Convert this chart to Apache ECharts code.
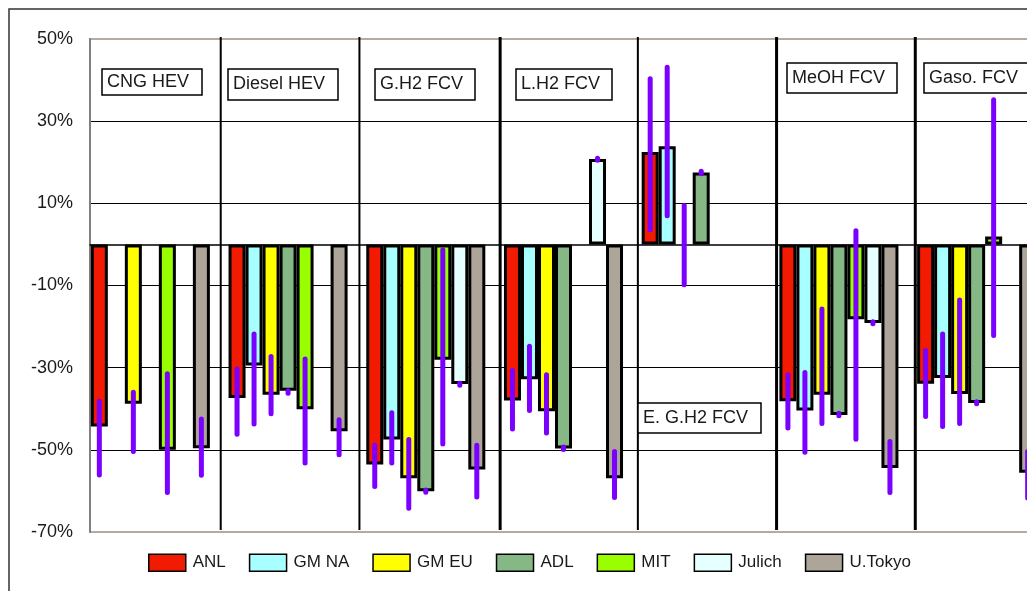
<!DOCTYPE html>
<html><head><meta charset="utf-8">
<script src="https://cdn.jsdelivr.net/npm/echarts@6/dist/echarts.min.js"></script>
<style>html,body{margin:0;padding:0;background:#fff;overflow:hidden;width:1027px;height:591px}#c{width:1060px;height:591px}</style>
</head><body><div id="c"></div>
<script>
// ---------------- data ----------------
const categories = ['CNG HEV', 'Diesel HEV', 'G.H2 FCV', 'L.H2 FCV', 'E. G.H2 FCV', 'MeOH FCV', 'Gaso. FCV'];
const seriesNames = ['ANL', 'GM NA', 'GM EU', 'ADL', 'MIT', 'Julich', 'U.Tokyo'];
const yTicks = [-70, -50, -30, -10, 10, 30, 50];

const anl    = [-44.3, -37.4, -53.6, -38.0, 22.5, -38.2, -33.9];
const gmNa   = [null, -29.5, -47.5, -32.8, 23.9, -40.4, -32.5];
const gmEu   = [-38.8, -36.6, -56.9, -40.6, null, -36.6, -36.4];
const adl    = [null, -35.6, -60.1, -49.7, 17.5, -41.5, -38.6];
const mit    = [-50.0, -40.1, -28.1, null, null, -18.2, 1.9];
const julich = [null, null, -34.0, 20.8, null, -19.1, null];
const uTokyo = [-49.6, -45.5, -54.8, -56.9, null, -54.4, -55.6];

const anlRange    = [[-56.1, -38.2], [-46.2, -30.3], [-58.9, -48.9], [-44.9, -30.7], [3.6, 40.3], [-44.7, -31.7], [-41.9, -25.8]];
const gmNaRange   = [null, [-43.7, -21.8], [-53.2, -41.0], [-40.4, -24.8], [7.0, 43.1], [-50.6, -31.2], [-44.3, -21.8]];
const gmEuRange   = [[-50.4, -36.0], [-41.2, -27.3], [-64.2, -47.5], [-45.9, -31.7], [-9.8, 9.5], [-43.6, -15.7], [-43.6, -13.5]];
const adlRange    = [null, [-36.2, -35.6], [-60.3, -59.8], [-49.9, -49.3], [17.2, 17.8], [-41.7, -41.1], [-38.8, -38.3]];
const mitRange    = [[-60.4, -31.5], [-53.2, -27.9], [-48.6, -1.3], null, null, [-47.4, 3.3], [-22.2, 35.2]];
const julichRange = [null, null, [-34.3, -33.8], [20.5, 21.0], null, [-19.3, -18.8], null];
const uTokyoRange = [[-56.2, -42.5], [-51.2, -42.7], [-61.5, -48.9], [-61.6, -50.4], null, [-60.4, -48.0], [-61.7, -50.4]];

// ---------------- styling ----------------
const values = [anl, gmNa, gmEu, adl, mit, julich, uTokyo];
const ranges = [anlRange, gmNaRange, gmEuRange, adlRange, mitRange, julichRange, uTokyoRange];
const colors = ['#F21A00', '#A8FFFF', '#FFFF00', '#86B886', '#99FF00', '#E6FFFF', '#AEA59A'];
const FONT = '"Liberation Sans", Arial, sans-serif';
const CAT_GAP = 0.012;      // fraction of band used as category gap
const SLOTS = 8;            // 7 series + one empty spacer slot (as in original layout)

const chart = echarts.init(document.getElementById('c'), null, {renderer: 'canvas'});

const barSeries = seriesNames.map((n, i) => ({
  name: n, type: 'bar', data: values[i].map(v => v == null ? '-' : v),
  barGap: '0%', barCategoryGap: (CAT_GAP * 100) + '%',
  itemStyle: {color: colors[i], borderColor: '#000', borderWidth: 3},
  emphasis: {disabled: true}, z: 3
}));
barSeries.push({
  name: 'spacer', type: 'bar', data: [], barGap: '0%', barCategoryGap: (CAT_GAP * 100) + '%',
  silent: true, z: 3
});

const errSeries = seriesNames.map((n, i) => ({
  name: n + ' range', type: 'custom', silent: true, z: 6,
  data: ranges[i].map((r, j) => r ? [j, r[0], r[1]] : null).filter(Boolean),
  encode: {x: 0, y: [1, 2]},
  renderItem: (params, api) => {
    const j = api.value(0), lo = api.value(1), hi = api.value(2);
    const band = api.size([1, 0])[0];
    const bw = band * (1 - CAT_GAP) / SLOTS;
    const p1 = api.coord([j, lo]);
    const p2 = api.coord([j, hi]);
    const x = p1[0] - band / 2 + band * CAT_GAP / 2 + bw * (i + 0.5);
    return {type: 'line', shape: {x1: x, y1: p1[1], x2: x, y2: p2[1]},
      style: {stroke: '#7A00FF', lineWidth: 5, lineCap: 'round'}};
  }
}));

chart.setOption({
  animation: false,
  backgroundColor: '#fff',
  grid: {left: 90, top: 39, right: 6, bottom: 59, show: true, borderColor: '#B4ACA4', borderWidth: 2, backgroundColor: 'transparent'},
  xAxis: {
    type: 'category', data: categories,
    axisLine: {show: true, onZero: true, lineStyle: {color: '#000', width: 1.5}},
    axisTick: {show: false}, axisLabel: {show: false}, splitLine: {show: false}
  },
  yAxis: {
    type: 'value', min: yTicks[0], max: yTicks[yTicks.length - 1], interval: yTicks[1] - yTicks[0],
    axisLine: {show: true, lineStyle: {color: '#808080', width: 2}},
    axisTick: {show: false},
    axisLabel: {formatter: '{value}%', fontFamily: FONT, fontSize: 18, color: '#1a1a1a', margin: 17},
    splitLine: {show: true, showMinLine: false, showMaxLine: false, lineStyle: {color: '#000', width: 1}}
  },
  legend: {
    data: seriesNames, left: 148, bottom: 19, padding: 0, icon: 'rect', itemWidth: 37, itemHeight: 17, itemGap: 23,
    textStyle: {fontFamily: FONT, fontSize: 17, color: '#1a1a1a', padding: [0, 0, 0, 2]},
    itemStyle: {borderColor: '#000', borderWidth: 1.5}, selectedMode: false
  },
  series: barSeries.concat(errSeries)
});

// ---------------- decorations: group separators, label boxes, outer frame ----------------
const c0 = chart.convertToPixel({xAxisIndex: 0}, 0);
const c1 = chart.convertToPixel({xAxisIndex: 0}, 1);
const bandPx = c1 - c0;
const yTopPx = chart.convertToPixel({yAxisIndex: 0}, yTicks[yTicks.length - 1]);
const yBotPx = chart.convertToPixel({yAxisIndex: 0}, yTicks[0]);
const sepShift = [-7, -6, -3, -3, -2, -1];
const sepWidth = [2, 2, 3, 2, 3, 3];
const graphics = [];
for (let k = 1; k < categories.length; k++) {
  const x = c0 - bandPx / 2 + bandPx * k + sepShift[k - 1];
  graphics.push({type: 'line', z: 4, silent: true,
    shape: {x1: x, y1: yTopPx - 2, x2: x, y2: yBotPx - 2},
    style: {stroke: '#000', lineWidth: sepWidth[k - 1]}});
}
// label box layout [left, top, width, height] for each category label
const boxLayout = [[102, 69, 100, 26], [228, 69, 110, 31], [375, 69, 100, 31], [516, 69, 96, 31],
                   [638, 403, 123, 30], [787, 63, 110, 30], [924, 63, 125, 30]];
categories.forEach((name, k) => {
  const [bx, by, bw, bh] = boxLayout[k];
  graphics.push({type: 'rect', z: 10, silent: true, shape: {x: bx, y: by, width: bw, height: bh},
    style: {fill: '#fff', stroke: '#000', lineWidth: 1.5}});
  graphics.push({type: 'text', z: 11, silent: true, x: bx + 5, y: by + bh / 2,
    style: {text: name, font: '18px ' + FONT, fill: '#1a1a1a', verticalAlign: 'middle'}});
});
graphics.push({type: 'rect', z: 0, silent: true, shape: {x: 9, y: 9, width: 1200, height: 800},
  style: {fill: 'none', stroke: '#333', lineWidth: 1.5}});
chart.setOption({graphic: graphics});
</script>
</body></html>
